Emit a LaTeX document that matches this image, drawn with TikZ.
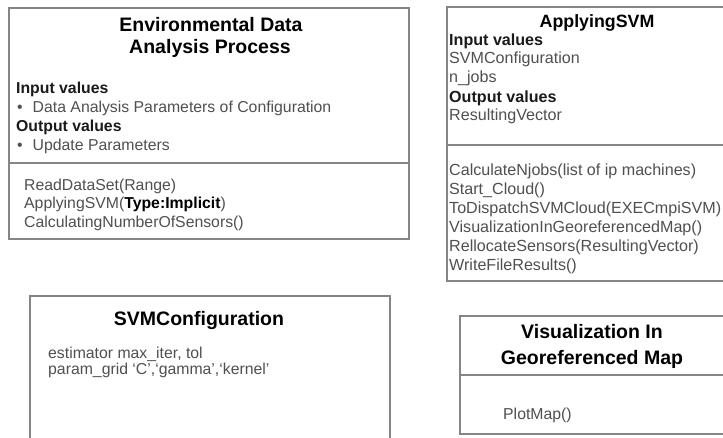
\documentclass[tikz,border=0pt]{standalone}
\usepackage{fontspec}
\setmainfont{Liberation Sans}
\definecolor{framegray}{HTML}{858585}
\definecolor{bodygray}{HTML}{505050}
\definecolor{headdark}{HTML}{1A1A1A}
\tikzset{
  classframe/.style={draw=framegray, line width=1.3pt},
  classrule/.style={draw=framegray, line width=1.3pt},
  classtitle/.style={inner sep=0pt, anchor=base, text=black,
    font=\fontsize{19.5}{22.5}\selectfont\bfseries},
  smalltitle/.style={inner sep=0pt, anchor=base, text=black,
    font=\fontsize{17.8}{21}\selectfont\bfseries},
  sectionhead/.style={inner sep=0pt, anchor=base west, text=headdark,
    font=\fontsize{15.8}{19}\selectfont\bfseries},
  entry/.style={inner sep=0pt, anchor=base west, text=bodygray,
    font=\fontsize{15.8}{19}\selectfont},
  wideentry/.style={entry, font=\fontsize{16.1}{19}\selectfont},
  widehead/.style={sectionhead, font=\fontsize{16.1}{19}\selectfont\bfseries},
}
\begin{document}
\begin{tikzpicture}[x=1pt,y=-1pt]
\useasboundingbox (0,0) rectangle (723,438);
\fill[white] (0,0) rectangle (723,438);
\clip (0,0) rectangle (723,438);

% ---- Environmental Data Analysis Process ----
\coordinate (envNW) at (9,8);
\coordinate (envSE) at (409,239);
\draw[classframe] (envNW) rectangle (envSE);
\coordinate (envRuleL) at (9,163);
\coordinate (envRuleR) at (409,163);
\draw[classrule] (envRuleL) -- (envRuleR);
\node[classtitle] (envT1) at (211,32) {Environmental Data};
\node[classtitle] (envT2) at (210,54) {Analysis Process};
\node[sectionhead] (envIn)  at (16,93.5) {Input values};
\node[entry]       (envInA) at (17,112.5) {•\hspace{10pt}Data Analysis Parameters of Configuration};
\node[sectionhead] (envOut) at (16,132) {Output values};
\node[entry]       (envOutA) at (17,151) {•\hspace{10pt}Update Parameters};
\node[entry] (envM1) at (24,190.5) {ReadDataSet(Range)};
\node[entry] (envM2) at (24,209) {ApplyingSVM(\textcolor{black}{\bfseries Type:Implicit})};
\node[entry] (envM3) at (24,228) {CalculatingNumberOfSensors()};

% ---- ApplyingSVM ----
\coordinate (svmNW) at (447,7);
\coordinate (svmSE) at (760,281);
\draw[classframe] (svmNW) rectangle (svmSE);
\coordinate (svmRuleL) at (447,145);
\coordinate (svmRuleR) at (760,145);
\draw[classrule] (svmRuleL) -- (svmRuleR);
\node[smalltitle] (svmT) at (597,28) {ApplyingSVM};
\node[widehead]  (svmIn)  at (449,45.5) {Input values};
\node[wideentry] (svmIn1) at (449,63.5) {SVMConfiguration};
\node[wideentry] (svmIn2) at (449,82.5) {n\_jobs};
\node[widehead]  (svmOut) at (449,102.5) {Output values};
\node[wideentry] (svmOut1) at (449,120.5) {ResultingVector};
\node[wideentry] (svmM1) at (449,175.5) {CalculateNjobs(list of ip machines)};
\node[wideentry] (svmM2) at (449,194.5) {Start\_Cloud()};
\node[wideentry] (svmM3) at (449,213.5) {ToDispatchSVMCloud(EXECmpiSVM)};
\node[wideentry] (svmM4) at (449,232.5) {VisualizationInGeoreferencedMap()};
\node[wideentry] (svmM5) at (449,251.5) {RellocateSensors(ResultingVector)};
\node[wideentry] (svmM6) at (449,270.5) {WriteFileResults()};

% ---- SVMConfiguration ----
\coordinate (cfgNW) at (30,296);
\coordinate (cfgSE) at (390,470);
\draw[classframe] (cfgNW) rectangle (cfgSE);
\node[classtitle] (cfgT) at (199,326) {SVMConfiguration};
\node[entry] (cfgA1) at (48,358.5) {estimator max\_iter, tol};
\node[entry] (cfgA2) at (48,374.5) {param\_grid ‘C’,‘gamma’,‘kernel’};

% ---- Visualization In Georeferenced Map ----
\coordinate (mapNW) at (460,316);
\coordinate (mapSE) at (760,434);
\draw[classframe] (mapNW) rectangle (mapSE);
\coordinate (mapRuleL) at (460,375);
\coordinate (mapRuleR) at (760,375);
\draw[classrule] (mapRuleL) -- (mapRuleR);
\node[classtitle] (mapT1) at (592,339) {Visualization In};
\node[classtitle] (mapT2) at (592,364) {Georeferenced Map};
\node[entry] (mapM1) at (503,419.5) {PlotMap()};
\end{tikzpicture}
\end{document}
